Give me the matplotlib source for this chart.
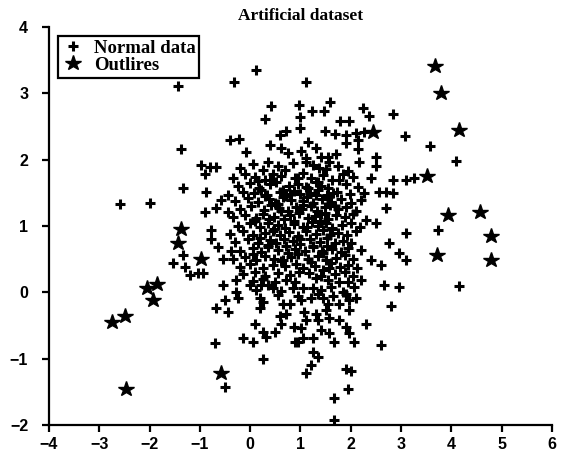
# Scatter of an artificial dataset: normal samples (+) and outliers (stars)

import matplotlib
matplotlib.use("Agg")
import matplotlib.pyplot as plt


TITLE = "Artificial dataset"
LABEL_NORMAL = "Normal data"
LABEL_OUTLIER = "Outlires"

X_TICKS = [-4, -3, -2, -1, 0, 1, 2, 3, 4, 5, 6]
Y_TICKS = [-2, -1, 0, 1, 2, 3, 4]

# normal points
normal_x = [
    # sparse top
    -1.43, -0.32, 0.12, 1.11, 0.42, 0.30, 0.97, 1.00, 1.23, 1.47, 1.59, 2.25, 2.37, 2.84, 1.79, 1.97,
    1.00, 1.49, 1.69, 1.91, 2.11, 2.27, 3.07, 1.91, 2.15, 1.15, 1.31, 1.01, 2.15, 1.71, 1.41, 1.55, 2.51, 1.11,
    -1.37, -0.40, -0.22, -0.08, 0.40, 0.60, 0.72, 0.62, 0.76, 3.58, 4.10,
    # right side
    1.11, 1.37, 1.57, 2.17, 2.50, 2.41, 2.84, 3.10, 3.26, 2.27, 2.56, 2.70, 2.84, 2.70, 2.31, 2.50,
    3.10, 2.76, 2.96, 3.10, 2.41, 2.60, 2.66, 2.96, 1.77, 1.65, 1.17, 1.45, 1.57, 1.77, 2.07, 1.05, 1.25, 3.74, 4.16,
    # left side
    -2.58, -1.99, -0.97, -0.80, -0.68, -0.89, -1.33, -0.87, -0.58, -0.89, -0.68, -0.44, -0.78, -0.78,
    -0.64, -0.54, -0.38, -1.33, -1.53, -1.29, -1.19, -1.03, -0.93, -0.54, -0.28, 0.00, 0.22, 0.36, -0.28,
    # bottom left
    -0.68, -0.50, -0.44, -0.24, 0.20, 0.20, 0.26, 0.66, 0.80, 0.60, 0.72, 0.62,
    0.10, 0.26, 0.32, 0.50, 0.87, 0.89, -0.70, -0.14, 0.06, 0.26, -0.50,
    # bottom right
    1.01, 1.21, 1.45, 1.55, 1.77, 1.97, 2.11, 1.07, 1.31, 1.51, 1.57, 1.11, 1.35, 1.77, 1.97, 1.91, 2.31, 2.80,
    1.01, 1.41, 1.57, 1.97, 1.05, 1.25, 0.95, 1.67, 2.07, 2.60, 1.25, 1.35, 1.21, 1.11, 1.91, 2.01, 1.95, 1.67, 1.67,
    # dense core
    -0.20, 0.05, 0.25, 0.35, 0.55, 0.70, 0.85, 1.25, 1.50, 1.75, 1.95,
    -0.35, -0.10, 0.10, 0.30, 0.45, 0.62, 0.90, 1.05, 1.20, 1.45, 1.62, 1.85, 2.05,
    -0.25, 0.00, 0.18, 0.40, 0.52, 0.78, 0.95, 1.10, 1.30, 1.40, 1.55, 1.90, 2.15,
    -0.45, -0.15, 0.08, 0.22, 0.33, 0.60, 0.72, 0.88, 1.00, 1.18, 1.35, 1.52, 1.72, 1.98,
    -0.30, -0.05, 0.15, 0.38, 0.50, 0.65, 0.82, 1.05, 1.12, 1.25, 1.42, 1.60, 1.80, 2.00, 2.20,
    -0.20, 0.02, 0.28, 0.42, 0.58, 0.75, 0.92, 1.02, 1.20, 1.32, 1.48, 1.58, 1.75, 1.90, 2.10,
    -0.35, -0.10, 0.12, 0.25, 0.48, 0.68, 0.80, 0.98, 1.15, 1.28, 1.40, 1.55, 1.70, 1.88, 2.05,
    -0.25, 0.00, 0.20, 0.35, 0.55, 0.70, 0.88, 1.05, 1.22, 1.35, 1.50, 1.62, 1.82, 2.00, 2.18,
    -0.40, -0.15, 0.05, 0.30, 0.45, 0.60, 0.78, 0.95, 1.10, 1.30, 1.45, 1.58, 1.75, 1.92, 2.10,
    -0.30, -0.05, 0.15, 0.40, 0.52, 0.68, 0.85, 1.00, 1.18, 1.38, 1.52, 1.68, 1.85, 2.00,
    -0.20, 0.05, 0.22, 0.35, 0.55, 0.75, 0.90, 1.08, 1.25, 1.42, 1.62, 1.80, 1.95, 2.20,
    -0.35, -0.10, 0.12, 0.30, 0.48, 0.62, 0.82, 1.15, 1.35, 1.50, 1.70, 1.88, 2.05,
    -0.20, 0.00, 0.25, 0.45, 0.70, 0.92, 1.05, 1.28, 1.60, 1.78, 1.95, 2.12,
    -0.15, 0.10, 0.30, 0.55, 0.80, 0.98, 1.40, 1.68, 1.88, 2.05,
    0.05, 0.25, 0.50, 0.72, 0.90, 1.30, 1.55, 1.95, 2.20,
    0.12, 0.45, 0.62, 0.85, 1.40, 1.60, 1.85,
    0.55, 0.95, 1.35, 1.65, 1.90,
    # extra overlap in the darkest patches
    0.15, 0.40, 0.65, 0.95, 1.15, 1.35, 1.55,
    0.30, 0.55, 0.80, 1.05, 1.30, 1.48, 1.68,
    0.10, 0.38, 0.62, 0.88, 1.12, 1.38, 1.62,
    0.20, 0.48, 0.72, 1.00, 1.25, 1.45,
    0.05, 0.35, 0.65, 0.95, 1.20, 1.52,
]
normal_y = [
    3.11, 3.17, 3.35, 3.17, 2.81, 2.61, 2.82, 2.65, 2.73, 2.73, 2.87, 2.78, 2.66, 2.69, 2.59, 2.59,
    2.47, 2.43, 2.38, 2.37, 2.40, 2.41, 2.36, 2.25, 2.29, 2.26, 2.17, 2.13, 2.16, 2.09, 2.04, 2.04, 2.04, 2.02,
    2.16, 2.29, 2.31, 2.11, 2.22, 2.37, 2.43, 2.17, 2.10, 2.20, 1.98,
    1.96, 1.88, 1.96, 1.96, 1.91, 1.72, 1.69, 1.69, 1.73, 1.49, 1.51, 1.51, 1.49, 1.27, 1.09, 1.04,
    0.89, 0.74, 0.59, 0.48, 0.48, 0.41, 0.11, 0.08, 1.69, 1.49, 0.29, 0.33, 0.36, 0.15, 0.08, 0.06, 0.06, 0.94, 0.09,
    1.33, 1.34, 1.92, 1.89, 1.89, 1.79, 1.57, 1.51, 1.39, 1.21, 1.27, 1.21, 0.94, 0.81,
    0.68, 0.51, 0.63, 0.56, 0.44, 0.38, 0.26, 0.29, 0.29, 0.11, 0.18, 0.11, 0.11, 0.11, 0.00,
    -0.23, -0.12, -0.30, -0.09, -0.08, -0.24, -0.15, -0.17, -0.17, -0.35, -0.32, -0.47,
    -0.47, -0.60, -0.68, -0.60, -0.53, -0.75, -0.77, -0.69, -0.75, -1.00, -1.42,
    -0.12, -0.08, -0.08, -0.17, -0.17, -0.12, -0.08, -0.30, -0.32, -0.27, -0.39, -0.42, -0.42, -0.42, -0.27, -0.53, -0.47, -0.20,
    -0.54, -0.57, -0.62, -0.62, -0.69, -0.69, -0.75, -0.75, -0.75, -0.80, -0.90, -0.98, -1.10, -1.22, -1.15, -1.19, -1.45, -1.60, -1.93,
    1.88, 1.93, 1.85, 1.97, 1.90, 1.84, 1.95, 1.92, 1.86, 1.90, 1.83,
    1.72, 1.78, 1.74, 1.70, 1.79, 1.76, 1.72, 1.80, 1.73, 1.77, 1.70, 1.79, 1.74,
    1.60, 1.65, 1.58, 1.63, 1.67, 1.60, 1.64, 1.59, 1.66, 1.61, 1.57, 1.63, 1.59,
    1.47, 1.52, 1.49, 1.54, 1.46, 1.51, 1.45, 1.53, 1.48, 1.50, 1.55, 1.46, 1.52, 1.48,
    1.38, 1.42, 1.36, 1.40, 1.35, 1.43, 1.39, 1.37, 1.43, 1.34, 1.40, 1.36, 1.41, 1.35, 1.39,
    1.26, 1.30, 1.24, 1.31, 1.27, 1.23, 1.29, 1.25, 1.30, 1.22, 1.28, 1.32, 1.25, 1.29, 1.23,
    1.13, 1.17, 1.12, 1.18, 1.14, 1.10, 1.16, 1.19, 1.12, 1.15, 1.18, 1.11, 1.16, 1.13, 1.18,
    1.00, 1.04, 0.98, 1.05, 1.01, 0.97, 1.03, 0.99, 1.06, 1.00, 1.04, 0.97, 1.02, 1.05, 0.99,
    0.88, 0.92, 0.86, 0.90, 0.93, 0.87, 0.91, 0.85, 0.92, 0.88, 0.94, 0.86, 0.90, 0.87, 0.92,
    0.76, 0.80, 0.74, 0.79, 0.75, 0.81, 0.77, 0.73, 0.80, 0.76, 0.82, 0.74, 0.78, 0.75,
    0.63, 0.67, 0.61, 0.68, 0.64, 0.60, 0.66, 0.62, 0.69, 0.63, 0.66, 0.61, 0.67, 0.64,
    0.50, 0.54, 0.49, 0.55, 0.51, 0.47, 0.53, 0.50, 0.55, 0.48, 0.52, 0.56, 0.50,
    0.38, 0.42, 0.37, 0.41, 0.39, 0.43, 0.36, 0.40, 0.44, 0.38, 0.41, 0.37,
    0.27, 0.30, 0.25, 0.29, 0.26, 0.31, 0.24, 0.28, 0.30, 0.25,
    0.17, 0.20, 0.15, 0.19, 0.16, 0.21, 0.18, 0.15, 0.19,
    0.04, 0.07, 0.02, 0.06, 0.03, 0.08, 0.01,
    -0.04, -0.06, -0.02, -0.05, -0.03,
    1.68, 1.70, 1.55, 1.72, 1.58, 1.66, 1.44,
    1.45, 1.33, 1.48, 1.32, 1.46, 1.20, 1.30,
    1.07, 1.10, 1.22, 1.08, 0.98, 1.08, 0.95,
    0.82, 0.95, 0.70, 0.80, 0.70, 0.60,
    0.58, 0.72, 0.48, 0.58, 0.45, 0.70,
]

outlier_x = [3.68, 3.80, 4.16, 3.52, 2.45, 3.94, 4.57, 4.79, 3.72, 4.79,
             -1.37, -1.43, -0.97, -2.05, -1.85, -1.93, -2.74, -2.49, -2.47, -0.58]
outlier_y = [3.41, 3.00, 2.44, 1.75, 2.41, 1.16, 1.21, 0.85, 0.56, 0.48,
             0.95, 0.75, 0.50, 0.06, 0.12, -0.12, -0.44, -0.36, -1.45, -1.22]


def main():
    assert len(normal_x) == len(normal_y)

    fig = plt.figure(figsize=(5.65, 4.55), dpi=100)
    ax = fig.add_axes([0.0867, 0.0659, 0.8903, 0.8748])

    ax.plot(normal_x, normal_y, linestyle="none", marker="+", color="black",
            markersize=6.5, markeredgewidth=2.2, label=LABEL_NORMAL)
    ax.plot(outlier_x, outlier_y, linestyle="none", marker="*", color="black",
            markersize=11.5, label=LABEL_OUTLIER)

    ax.set_xlim(-4, 6)
    ax.set_ylim(-2, 4)
    ax.set_xticks(X_TICKS)
    ax.set_yticks(Y_TICKS)
    ax.spines["top"].set_visible(False)
    ax.spines["right"].set_visible(False)
    for side in ["left", "bottom"]:
        ax.spines[side].set_linewidth(1.6)
    ax.tick_params(direction="out", length=5, width=1.6, labelsize=11.5)
    ax.tick_params(axis="y", pad=10)
    for label in ax.get_xticklabels() + ax.get_yticklabels():
        label.set_fontfamily("Liberation Sans")
        label.set_fontweight("bold")

    ax.set_title(TITLE, fontfamily="Liberation Serif", fontweight="bold",
                 fontsize=12.5, pad=5)

    legend = ax.legend(loc="upper left", bbox_to_anchor=(0.1027, 0.9209),
                       bbox_transform=fig.transFigure, fancybox=False,
                       edgecolor="black", framealpha=1, handlelength=1.2,
                       handletextpad=0.5, borderpad=0.2, labelspacing=0.0,
                       borderaxespad=0,
                       prop={"family": "Liberation Serif", "weight": "bold", "size": 13.5})
    legend.get_frame().set_linewidth(1.6)

    fig.savefig("out.png", dpi=100)
    plt.close(fig)


if __name__ == "__main__":
    main()
